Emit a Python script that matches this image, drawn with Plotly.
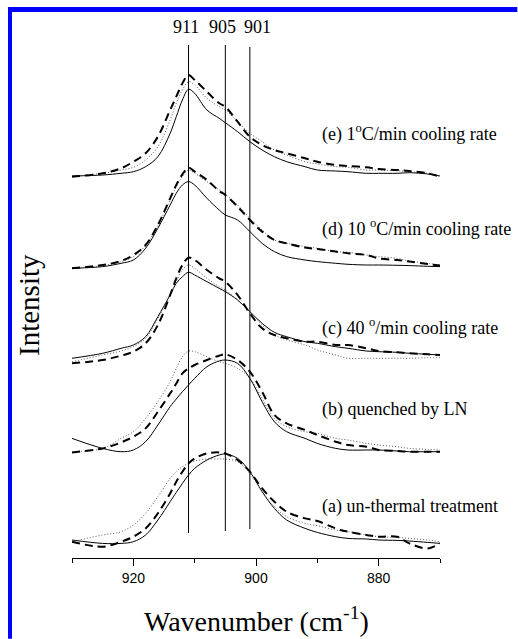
import plotly.graph_objects as go

# wavenumber grid (cm^-1)
wn = [930, 925, 922, 920, 918, 916, 914, 913, 912, 911, 910, 908, 906, 905, 903,
      901, 899, 897, 895, 892, 890, 887, 885, 882, 880, 877, 875, 872, 870]

# vertical offsets of each stacked spectrum
offsets = {"a": 16.3, "b": 106.3, "c": 198.0, "d": 289.7, "e": 382.0}

# intensities (arbitrary units) : solid, dotted, dashed for each sample
e_solid = [0, 1, 2.7, 4.3, 9.3, 19.3, 42.7, 59.3, 76, 86.7, 82.7, 66, 57.7, 53.3, 44.3,
           34.3, 26, 19.3, 14.3, 9.3, 6, 5, 4.3, 2.7, 2.7, 2.7, 3.3, 2, 0]
e_dot = [0, 2.7, 6, 8.7, 16, 29.3, 56, 72.7, 86, 94.3, 91, 77.7, 69.3, 66, 54.3,
         42.7, 34.3, 26, 21, 14.3, 12, 9.3, 8.7, 6, 6, 5.3, 4.3, 2.7, 0]
e_dash = [-0.7, 2.7, 7.7, 14.3, 22.7, 39.3, 66, 79.3, 92.7, 101, 96, 84.3, 72.7, 69.3, 54.3,
          39.3, 31, 26, 22.7, 17.7, 14.3, 11, 10, 8.7, 7, 6, 5, 2.7, -0.7]

d_solid = [0, 1.7, 5, 8.3, 20, 40, 63.3, 75, 83.3, 86.7, 83.3, 70, 58.3, 53.3, 48.3,
           36.7, 25, 16.7, 11.7, 8.3, 6.7, 5, 4, 3.3, 3.3, 3, 2.7, 2, 1.7]
d_dot = [0, 2.7, 6.7, 11.7, 22.7, 42.7, 68.3, 81.7, 91.7, 98.3, 95, 86.7, 78.3, 74, 63.3,
         50, 38.3, 28.3, 25, 21.7, 20, 16.7, 16, 13.3, 11.7, 10, 7.3, 5, 3.3]
d_dash = [0, 3.3, 7.3, 13.3, 23.3, 43.3, 70, 83.3, 94, 100.7, 96.7, 88.3, 77.3, 73.3, 61.7,
          48.3, 36.7, 28.3, 25, 20.7, 19.3, 16.7, 15, 13.3, 10, 8.3, 6.7, 4.3, 2.7]

c_solid = [1.7, 6.7, 11.7, 15, 23.3, 43.3, 65, 76.7, 83.3, 87.7, 85, 78.3, 71.7, 68.3, 60,
           48.3, 36.7, 27.7, 23.3, 18.3, 16.7, 13.3, 11.7, 9, 8.3, 7.7, 6.7, 5.7, 5]
c_dot = [-1.7, 5, 9, 13.3, 21.7, 41.7, 65, 78.3, 90, 95, 91.7, 81.7, 73.3, 70, 60,
         48.3, 35, 25, 20, 15, 10, 5, 1.7, 1.7, 1.7, 1.7, 1.7, 2.3, 2.3]
c_dash = [-3.3, 0, 4.3, 8.3, 16.7, 35, 65, 81.7, 95, 102.3, 100, 90, 81.7, 78.3, 65,
          46.7, 31.7, 25, 21.7, 18.3, 18.3, 15, 15, 11.7, 9, 7.7, 6.7, 5.7, 5]

b_solid = [13.3, 3.3, 0, 1.7, 10, 26.7, 45, 52.7, 60, 66.7, 73.3, 85, 90.7, 91.7, 88.3,
           73.3, 50, 30, 20, 13.3, 8.3, 3.3, 1.7, 1.7, 1.7, 0.7, 0, 0, 0]
b_dot = [0, 3.3, 13.3, 20, 33.3, 50, 70, 83.3, 95, 100.7, 100, 95, 90, 88.3, 83.3,
         73.3, 53.3, 33.3, 25, 20, 18.3, 13.3, 11.7, 8.3, 6.7, 5, 3.3, 2.3, 1.7]
b_dash = [-0.7, 3.3, 9.3, 15, 23.3, 40, 58.3, 68.3, 78.3, 83.3, 86.7, 91.7, 96, 97.3, 91.7,
          80, 60, 36.7, 28.3, 21.7, 16.7, 10, 6.7, 5, 1.7, 0.7, 0, 0, 0]

a_solid = [1.7, -1.7, -1.7, 0, 6.7, 21.7, 40, 49.3, 58.3, 66.7, 73.3, 81.7, 86.7, 87.7, 83.3,
           70, 50, 33.3, 21.7, 13.3, 9.3, 5, 3.3, 2.7, 1.7, 1.3, 0.7, -0.7, -1.7]
a_dot = [0, 6.7, 10, 16.7, 28.3, 45, 63.3, 70, 75, 78.3, 80.7, 82.7, 82.7, 82.7, 80,
         68.3, 50, 35, 25, 18.3, 16, 11.7, 10, 6.7, 5, 4.3, 3.3, 1.7, 0]
a_dash = [0, -5, 0, 5, 13.3, 28.3, 48.3, 60, 70, 78.3, 83.3, 88.3, 89.3, 88.3, 81.7,
          70, 53.3, 40, 30, 23.3, 20.7, 13.3, 10, 6.7, 5, 5, -1.7, -6.7, -1.7]

series = {
    "a": (a_solid, a_dot, a_dash),
    "b": (b_solid, b_dot, b_dash),
    "c": (c_solid, c_dot, c_dash),
    "d": (d_solid, d_dot, d_dash),
    "e": (e_solid, e_dot, e_dash),
}

labels = {
    "e": "(e) 1<sup>o</sup>C/min cooling rate",
    "d": "(d) 10 <sup>o</sup>C/min cooling rate",
    "c": "(c) 40 <sup>o</sup>/min cooling rate",
    "b": "(b) quenched by LN",
    "a": "(a) un-thermal treatment",
}
label_y = {"e": 425, "d": 330, "c": 231, "b": 149, "a": 52}

peak_lines = [911, 905, 901]
peak_labels = ["911", "905", "901"]
peak_label_x = [911.4, 905.5, 899.7]
peak_line_y = [(25, 513), (27, 513), (29, 511)]

serif = "Liberation Serif, Times New Roman, serif"

fig = go.Figure()
for key, (sol, dot, dsh) in series.items():
    off = offsets[key]
    fig.add_trace(go.Scatter(x=wn, y=[v + off for v in sol], mode="lines",
                             line=dict(color="black", width=1, shape="spline", smoothing=1.0),
                             showlegend=False, hoverinfo="skip"))
    fig.add_trace(go.Scatter(x=wn, y=[v + off for v in dot], mode="lines",
                             line=dict(color="#555555", width=1, dash="1px,2px", shape="spline", smoothing=1.0),
                             showlegend=False, hoverinfo="skip"))
    fig.add_trace(go.Scatter(x=wn, y=[v + off for v in dsh], mode="lines",
                             line=dict(color="black", width=2, dash="8px,5px", shape="spline", smoothing=1.0),
                             showlegend=False, hoverinfo="skip"))

for xv, (y0, y1) in zip(peak_lines, peak_line_y):
    fig.add_shape(type="line", x0=xv, x1=xv, y0=y0, y1=y1, xref="x", yref="y",
                  line=dict(color="black", width=1))

for txt, xv in zip(peak_labels, peak_label_x):
    fig.add_annotation(x=xv, y=531, text=txt, showarrow=False, xanchor="center",
                       yanchor="middle", font=dict(family=serif, size=18, color="black"))

for key, txt in labels.items():
    fig.add_annotation(x=889.6, y=label_y[key], text=txt, showarrow=False, xanchor="left",
                       yanchor="middle", font=dict(family=serif, size=18, color="black"))

# axis titles
fig.add_annotation(xref="paper", yref="paper", x=0.5027, y=-0.115,
                   text="Wavenumber (cm<sup>-1</sup>)", showarrow=False,
                   xanchor="center", yanchor="middle",
                   font=dict(family=serif, size=28, color="black"))
fig.add_annotation(xref="paper", yref="paper", x=-0.1168, y=0.4703,
                   text="Intensity", textangle=-90, showarrow=False,
                   xanchor="center", yanchor="middle",
                   font=dict(family=serif, size=29, color="black"))

# blue frame (top and left)
fig.add_shape(type="rect", xref="paper", yref="paper", x0=-0.1739, x1=1.21, y0=1.0149, y1=1.0242,
              line=dict(width=0), fillcolor="#0000ff", layer="above")
fig.add_shape(type="rect", xref="paper", yref="paper", x0=-0.1739, x1=-0.163, y0=-0.15, y1=1.0242,
              line=dict(width=0), fillcolor="#0000ff", layer="above")

fig.update_layout(
    width=518, height=639,
    margin=dict(l=72, r=78, t=20, b=81),
    paper_bgcolor="white", plot_bgcolor="white",
    xaxis=dict(range=[930, 870], showgrid=False, zeroline=False,
               showline=True, linecolor="black", linewidth=1,
               ticks="outside", ticklen=7, tickcolor="black", tickwidth=1,
               tick0=880, dtick=20,
               minor=dict(ticks="outside", ticklen=4, dtick=10, tick0=870, tickcolor="black", showgrid=False),
               tickfont=dict(family="Liberation Sans, Arial, sans-serif", size=14, color="black")),
    yaxis=dict(range=[0, 538], visible=False, showgrid=False, zeroline=False),
)

fig.write_html("out.html", config={"displayModeBar": False},
               post_script="document.body.style.margin='0';document.body.style.overflow='hidden';")
